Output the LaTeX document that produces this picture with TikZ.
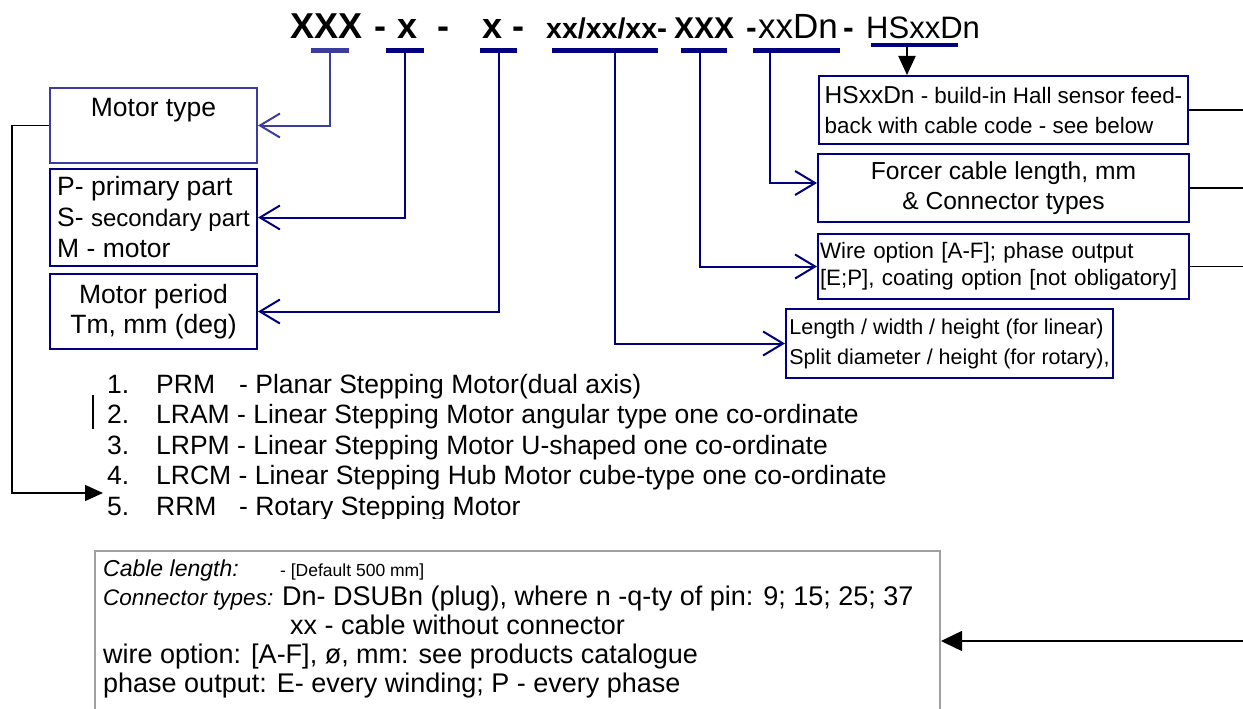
\documentclass[tikz,border=0pt]{standalone}
\usepackage{fontspec}
\setmainfont{Liberation Sans}
\usetikzlibrary{arrows.meta}

\definecolor{navy}{RGB}{0,0,128}
\definecolor{typeblue}{RGB}{60,60,160}
\definecolor{notegray}{RGB}{160,160,160}
\newcommand{\fsz}[2]{\fontsize{#1}{#2}\selectfont}

\begin{document}
\begin{tikzpicture}[x=1pt,y=-1pt,
  hdr/.style={anchor=base west,inner sep=0pt},
  bar/.style={fill=navy,inner sep=0pt,minimum height=5pt},
  box/.style={draw=navy,line width=2pt,inner sep=3pt,anchor=north west},
  conn/.style={draw=navy,line width=2pt,-{Straight Barb[length=20pt,width=24pt]}},
  blk/.style={draw=black,line width=1.5pt},
  lst/.style={anchor=base west,inner sep=0pt,font=\fsz{26.5}{30}},
  note/.style={anchor=base west,inner sep=0pt,font=\fsz{27}{29}}]
  \clip (0,0) rectangle (1243,709);
  \fill[white] (0,0) rectangle (1243,709);

  \node[hdr,font={\bfseries\fsz{36}{40}}] (hType) at (290,39) {XXX};
  \node[hdr,font={\bfseries\fsz{36}{40}}] (d1) at (374,39) {-};
  \node[hdr,font={\bfseries\fsz{36}{40}}] (hPart) at (397,39) {x};
  \node[hdr,font={\bfseries\fsz{36}{40}}] (d2) at (437,39) {-};
  \node[hdr,font={\bfseries\fsz{36}{40}}] (hPeriod) at (482,39) {x};
  \node[hdr,font={\bfseries\fsz{36}{40}}] (d3) at (512,39) {-};
  \node[hdr,font={\bfseries\fsz{28.5}{32}}] (hSize) at (546,39) {xx/xx/xx};
  \node[hdr,font={\bfseries\fsz{30}{34}}] (d4) at (657,39) {-};
  \node[hdr,font={\bfseries\fsz{30}{34}}] (hWire) at (674,39) {XXX};
  \node[hdr,font={\bfseries\fsz{32}{36}}] (d5) at (746,39) {-};
  \node[hdr,font=\fsz{35}{38}] (hCable) at (758,39) {xxDn};
  \node[hdr,font={\bfseries\fsz{32}{36}}] (d6) at (843,39) {-};
  \node[hdr,font=\fsz{31}{34}] (hHall) at (866,39) {HSxxDn};

  \node[bar,fill=typeblue,minimum width=38pt] (bType) at (330,50.5) {};
  \node[bar,minimum width=38pt] (bPart) at (405,50.5) {};
  \node[bar,minimum width=37pt] (bPeriod) at (498.5,50.5) {};
  \node[bar,minimum width=106pt] (bSize) at (605,50.5) {};
  \node[bar,minimum width=46pt] (bWire) at (704,50.5) {};
  \node[bar,minimum width=87pt] (bCable) at (796.5,50.5) {};
  \node[bar,minimum width=87pt,minimum height=4pt] (bHall) at (914.5,45) {};

  \node[box,draw=typeblue,minimum width=207pt,inner ysep=0pt,text height=28pt,text depth=47pt,font=\fsz{26.5}{31}] (typeBox) at (49,87) {Motor type};
  \node[box,minimum width=207pt,minimum height=97pt,align=left,font=\fsz{26.5}{31}] (partBox) at (49,168) {P- primary part\\S- {\fsz{24}{31}secondary part}\\M - motor};
  \node[box,minimum width=207pt,minimum height=75pt,align=center,font=\fsz{26.5}{30}] (periodBox) at (49,273) {Motor period\\Tm, mm (deg)};

  \node[box,minimum width=369pt,minimum height=68pt,align=left,font=\fsz{22.4}{30}] (hallBox) at (818,75) {{\fsz{24.5}{30}HSxxDn} - build-in Hall sensor feed-\\back with cable code - see below};
  \node[box,minimum width=371pt,minimum height=68pt,align=center,font=\fsz{24.6}{30}] (forcerBox) at (817,153) {Forcer cable length, mm\\\& Connector types};
  \node[box,inner xsep=2pt,text width=367pt,minimum height=65pt,align=left,font=\fsz{22.3}{27}] (wireBox) at (817,233) {Wire option [A-F]; phase output\\{[E;P]}, coating option [not obligatory]};
  \node[box,minimum width=327pt,minimum height=69pt,align=left,font=\fsz{21.5}{30}] (sizeBox) at (785,308) {Length / width / height (for linear)\\Split diameter / height (for rotary),};

  \draw[conn,draw=typeblue] (bType.south) |- (typeBox.east);
  \draw[conn] (bPart.south) |- (partBox.east);
  \draw[conn] (bPeriod.south) |- (periodBox.east);
  \draw[conn] ([xshift=10pt]bSize.south) |- (sizeBox.west);
  \draw[conn] ([xshift=-4pt]bWire.south) |- (wireBox.west);
  \draw[conn] ([xshift=-26.5pt]bCable.south) |- ([yshift=5pt]forcerBox.west);
  \draw[blk,line width=2pt,-{Triangle[length=19pt,width=17pt]}] ([xshift=-7.5pt]bHall.south) -- ([xshift=-7.5pt]bHall.south |- hallBox.north);

  \coordinate (rEdge) at (1250,0);
  \draw[blk] (hallBox.east) -- (hallBox.east -| rEdge);
  \draw[blk] (forcerBox.east) -- (forcerBox.east -| rEdge);
  \draw[blk] (wireBox.east) -- (wireBox.east -| rEdge);

  \coordinate (lCorner) at (12,493);
  \coordinate (lTip) at (103,493);
  \draw[blk,-{Triangle[length=18pt,width=16pt]}] (typeBox.west) -| (lCorner) -- (lTip);
  \draw[blk] (93,395) -- (93,429);

  \begin{scope}
    \clip (0,0) rectangle (1243,518);
    \node[lst] (li1) at (107,393) {\makebox[49pt][l]{1.}\makebox[83pt][l]{PRM}- Planar Stepping Motor(dual axis)};
    \node[lst] (li2) at (107,423.5) {\makebox[49pt][l]{2.}LRAM - Linear Stepping Motor angular type one co-ordinate};
    \node[lst] (li3) at (107,454) {\makebox[49pt][l]{3.}LRPM - Linear Stepping Motor U-shaped one co-ordinate};
    \node[lst] (li4) at (107,484.5) {\makebox[49pt][l]{4.}LRCM - Linear Stepping Hub Motor cube-type one co-ordinate};
    \node[lst] (li5) at (107,515) {\makebox[49pt][l]{5.}\makebox[83pt][l]{RRM}- Rotary Stepping Motor};
  \end{scope}

  \node[draw=notegray,line width=2pt,minimum width=845pt,minimum height=180pt,anchor=north west,inner sep=0pt] (noteBox) at (94,550) {};
  \draw[blk,-{Triangle[length=21pt,width=20pt]}] (noteBox.east -| rEdge) -- (noteBox.east);
  \node[note] (nt1) at (103,576) {\makebox[177pt][l]{\fsz{23}{29}\itshape Cable length:}{\fsz{17.5}{29}- [Default 500 mm]}};
  \node[note] (nt2) at (103,605) {\makebox[179pt][l]{\fsz{22.5}{29}\itshape Connector types:}Dn- DSUBn (plug), where n -q-ty of pin: 9; 15; 25; 37};
  \node[note] (nt3) at (290,634) {xx - cable without connector};
  \node[note] (nt4) at (103,663) {wire option: [A-F], ø, mm: see products catalogue};
  \node[note] (nt5) at (103,692) {phase output: E- every winding; P - every phase};
\end{tikzpicture}
\end{document}
